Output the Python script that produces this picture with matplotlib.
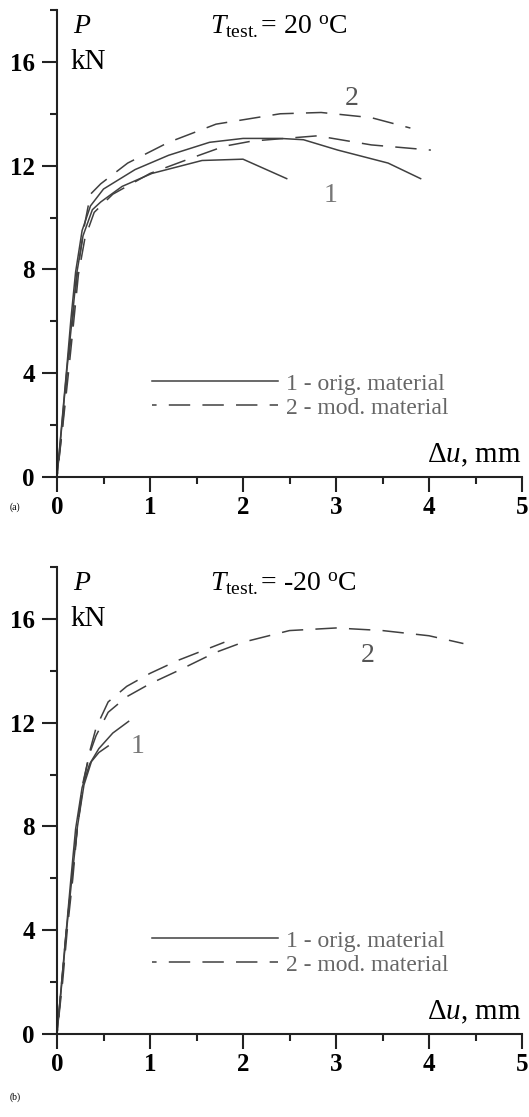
import matplotlib
matplotlib.use("Agg")
import matplotlib.pyplot as plt
from matplotlib.ticker import MultipleLocator

plt.rcParams['font.family'] = ['Liberation Serif', 'DejaVu Serif']
plt.rcParams['mathtext.fontset'] = 'custom'
plt.rcParams['mathtext.rm'] = 'Liberation Serif'
plt.rcParams['mathtext.it'] = 'Liberation Serif:italic'

# ---- panel (a): T = 20 C ----
a_orig1_x = [0, 0.05, 0.10, 0.15, 0.20, 0.27, 0.36, 0.50, 0.84, 1.20, 1.64, 2.00, 2.40, 2.65, 3.02, 3.56, 3.91]
a_orig1_y = [0, 2.0, 4.0, 6.1, 7.9, 9.5, 10.45, 11.1, 11.85, 12.4, 12.9, 13.05, 13.05, 13.0, 12.6, 12.1, 11.5]
a_orig2_x = [0, 0.05, 0.10, 0.16, 0.21, 0.28, 0.38, 0.47, 0.70, 1.02, 1.56, 2.00, 2.47]
a_orig2_y = [0, 1.9, 3.9, 6.0, 7.8, 9.3, 10.3, 10.6, 11.2, 11.7, 12.2, 12.25, 11.5]
a_mod1_x = [0, 0.06, 0.11, 0.17, 0.22, 0.29, 0.36, 0.47, 0.76, 1.20, 1.71, 2.40, 2.84, 3.38, 3.80]
a_mod1_y = [0, 2.0, 4.0, 6.1, 7.9, 9.6, 10.9, 11.3, 12.1, 12.9, 13.6, 14.0, 14.05, 13.85, 13.45]
a_mod2_x = [0, 0.06, 0.12, 0.18, 0.23, 0.30, 0.40, 0.60, 1.00, 1.45, 1.80, 2.10, 2.80, 3.38, 4.02]
a_mod2_y = [0, 1.9, 3.9, 6.0, 7.8, 9.2, 10.2, 10.9, 11.7, 12.3, 12.75, 12.95, 13.15, 12.8, 12.6]

# ---- panel (b): T = -20 C ----
b_orig1_x = [0, 0.05, 0.10, 0.15, 0.20, 0.27, 0.35, 0.45, 0.60, 0.77]
b_orig1_y = [0, 2.0, 4.0, 6.0, 7.9, 9.5, 10.4, 11.0, 11.6, 12.05]
b_orig2_x = [0, 0.05, 0.10, 0.16, 0.22, 0.29, 0.37, 0.45, 0.55]
b_orig2_y = [0, 1.9, 3.9, 6.0, 8.0, 9.6, 10.5, 10.85, 11.1]
b_mod1_x = [0, 0.06, 0.11, 0.17, 0.22, 0.28, 0.35, 0.42, 0.55, 0.75, 1.0, 1.3, 1.7, 2.0, 2.5, 3.0, 3.5, 4.0, 4.37]
b_mod1_y = [0, 2.0, 4.0, 6.0, 8.0, 9.7, 10.8, 11.5, 12.4, 13.0, 13.5, 14.0, 14.7, 15.1, 15.55, 15.65, 15.55, 15.35, 15.05]
b_mod2_x = [0, 0.05, 0.10, 0.16, 0.22, 0.29, 0.36, 0.42, 0.55, 0.75, 1.0, 1.3, 1.8]
b_mod2_y = [0, 2.0, 4.0, 6.0, 8.0, 9.8, 11.0, 11.8, 12.8, 13.4, 13.9, 14.4, 15.1]

panels = [
    dict(orig=[(a_orig1_x, a_orig1_y), (a_orig2_x, a_orig2_y)],
         mod=[(a_mod1_x, a_mod1_y), (a_mod2_x, a_mod2_y)],
         temp='20', lab1=(2.94, 10.85), lab2=(3.17, 14.6), tag='(a)', tag_y=610),
    dict(orig=[(b_orig1_x, b_orig1_y), (b_orig2_x, b_orig2_y)],
         mod=[(b_mod1_x, b_mod1_y), (b_mod2_x, b_mod2_y)],
         temp='-20', lab1=(0.87, 11.1), lab2=(3.34, 14.6), tag='(b)', tag_y=20),
]

fig = plt.figure(figsize=(5.29, 11.17), dpi=100)
bottoms = [640, 83]  # px from figure bottom
line_col = '#404040'
dash = (11, (14, 8))

for p, b in zip(panels, bottoms):
    ax = fig.add_axes([57 / 529, b / 1117, 465 / 529, 467 / 1117])
    for i, (x, y) in enumerate(p['orig']):
        ax.plot(x, y, color=line_col, lw=1.1,
                label='1 - orig. material' if i == 0 else None)
    for i, (x, y) in enumerate(p['mod']):
        ax.plot(x, y, color=line_col, lw=1.1, linestyle=dash,
                label='2 - mod. material' if i == 0 else None)

    ax.set_xlim(0, 5)
    ax.set_ylim(0, 18)
    for s in ['top', 'right']:
        ax.spines[s].set_visible(False)
    for s in ['left', 'bottom']:
        ax.spines[s].set_linewidth(1.5)
        ax.spines[s].set_color('#222222')
    ax.xaxis.set_major_locator(MultipleLocator(1))
    ax.xaxis.set_minor_locator(MultipleLocator(0.5))
    ax.yaxis.set_major_locator(MultipleLocator(4))
    ax.yaxis.set_minor_locator(MultipleLocator(2))
    ax.tick_params(which='major', length=11, width=1.5, labelsize=18, color='#222222')
    ax.tick_params(which='minor', length=5, width=1.5, color='#222222')
    ax.tick_params(axis='x', which='major', pad=3)
    ax.tick_params(axis='y', which='major', pad=5)
    for lbl in ax.get_xticklabels() + ax.get_yticklabels():
        lbl.set_fontweight('bold')

    ax.text(0.27, 17.35, 'P', fontsize=20, style='italic', ha='center', va='center')
    ax.text(0.34, 16.0, 'kN', fontsize=21, ha='center', va='center')
    ax.text(1.65, 17.35, r'$T_{\mathrm{test.}}$= ' + p['temp'] + r' $^{\mathrm{o}}$C',
            fontsize=20, ha='left', va='center')
    ax.text(5.0, 0.3, r'$\Delta u$, mm', fontsize=21, ha='right', va='bottom')
    ax.text(*p['lab1'], '1', fontsize=20, color='#777777', ha='center', va='center')
    ax.text(*p['lab2'], '2', fontsize=20, color='#555555', ha='center', va='center')

    ax.legend(loc='lower left', bbox_to_anchor=(0.185, 0.105), frameon=False,
              handlelength=5.3, handletextpad=0.35, labelspacing=0.1,
              fontsize=17, labelcolor='#666666', borderaxespad=0)

    fig.text(10 / 529, p['tag_y'] / 1117, p['tag'], fontsize=7, va='center')

fig.savefig('out.png', dpi=100)
